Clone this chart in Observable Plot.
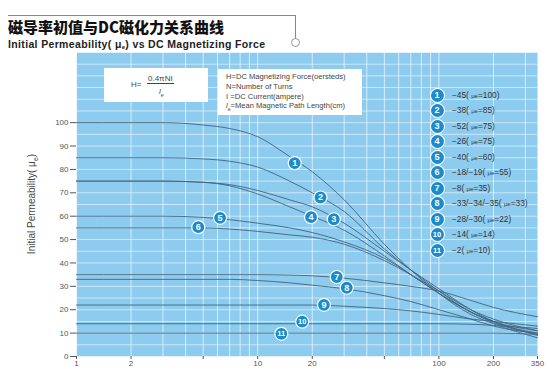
<!DOCTYPE html>
<html><head><meta charset="utf-8">
<script src="https://cdn.jsdelivr.net/npm/d3@7"></script>
<script src="https://cdn.jsdelivr.net/npm/@observablehq/plot@0.6"></script>
<style>
body{margin:0;background:#fff;}
#wrap{position:relative;width:554px;height:373px;overflow:hidden;font-family:"Liberation Sans",Arial,sans-serif;}
#chart{position:absolute;left:0;top:0;}
.abs{position:absolute;white-space:nowrap;}
#title{left:8px;top:19px;font-family:"Noto Sans CJK SC",sans-serif;font-weight:900;font-size:15px;line-height:15px;height:15px;color:#111;}
#subtitle{left:8px;top:39px;font-weight:bold;font-size:10.5px;letter-spacing:0.35px;line-height:10px;height:10px;color:#222;}
#frameLine{left:8px;top:15px;width:287px;height:24px;border-top:1px solid #888;border-right:1px solid #888;}
#ring{left:291px;top:38px;width:7px;height:7px;border:1.5px solid #999;border-radius:50%;background:#fff;}
#formula{left:104px;top:68px;width:104px;height:34px;background:#fff;font-size:8px;color:#444;}
#defs{left:218px;top:69px;width:144px;height:46px;background:#fff;font-size:7.6px;color:#444;line-height:9.8px;padding:3px 0 0 8px;box-sizing:border-box;}
#ylab{left:32px;top:204px;transform:translate(-50%,-50%) rotate(-90deg);font-size:10px;color:#444;}
.leg{font-size:8.3px;color:#333;}
.lc{position:absolute;width:13px;height:13px;border-radius:50%;background:#1a8ccc;color:#fff;font-size:9px;font-weight:bold;text-align:center;line-height:13px;box-shadow:0 0 0 1px #fff;}
</style></head>
<body>
<div id="wrap">
  <div id="chart"></div>
  <div class="abs" id="frameLine"></div>
  <div class="abs" id="ring"></div>
  <div class="abs" id="title">磁导率初值与DC磁化力关系曲线</div>
  <div class="abs" id="subtitle">Initial Permeability( μ<span style="font-size:6px;vertical-align:-1px">e</span>) vs DC Magnetizing Force</div>
  <div class="abs" id="formula">
    <span class="abs" style="left:27px;top:12px;">H=</span>
    <span class="abs" style="left:43px;top:6px;border-bottom:1px solid #444;padding:0 1px;">0.4πNI</span>
    <span class="abs" style="left:55px;top:19px;font-style:italic;">l<sub style="font-size:5px">e</sub></span>
  </div>
  <div class="abs" id="defs"></div>
  <div class="abs" id="ylab">Initial Permeability( μ<sub style="font-size:7px">e</sub>)</div>
  <div id="legend"></div>
</div>
<script>
// Magnetizing force H (oersteds) sample points
const H = [1, 2, 3, 5, 7, 10, 15, 20, 30, 50, 70, 100, 150, 200, 350];
// Initial permeability (% of initial) per material
const curve1  = [100, 100, 100, 99, 97.5, 94, 85.5, 79, 67, 48, 37, 27, 18, 14, 8];
const curve2  = [85, 85, 85, 84.5, 83.5, 81, 75, 70, 62, 46, 37, 28, 19, 15, 9];
const curve3  = [75, 75, 75, 74.5, 73.5, 71, 67, 64, 57, 45, 37, 29, 20, 15, 10];
const curve4  = [75, 75, 75, 74.5, 73, 69.5, 64, 60, 54, 43, 35, 27, 19, 14.5, 9.5];
const curve5  = [60, 60, 60, 59.5, 58.5, 57, 55, 53, 49, 42, 35, 27, 19, 15, 11];
const curve6  = [55, 55, 55, 55, 54.5, 53.5, 52, 51, 48, 41, 35, 28, 20, 16, 11];
const curve7  = [35, 35, 35, 35, 35, 35, 34.8, 34.5, 33.5, 31.5, 30, 28, 24, 21, 17];
const curve8  = [33, 33, 33, 33, 33, 32.5, 31.5, 30.5, 29, 26, 23.5, 20, 16, 13, 10];
const curve9  = [22, 22, 22, 22, 22, 22, 22, 22, 21.5, 20.5, 19.5, 18, 16, 15, 13];
const curve10 = [14, 14, 14, 14, 14, 14, 14, 14, 14, 14, 14, 14, 13.8, 13.3, 12];
const curve11 = [10, 10, 10, 10, 10, 10, 10, 10, 10, 10, 10, 10, 10, 10, 9.5];
const curves = [curve1, curve2, curve3, curve4, curve5, curve6, curve7, curve8, curve9, curve10, curve11];

// circled labels on curves (H, μ)
const labelIds = ["1","2","3","4","5","6","7","8","9","10","11"];
const labelH  = [16, 22.2, 26.3, 19.7, 6.2, 4.7, 27.3, 31, 23.2, 17.6, 13.5];
const labelMu = [82.7, 68, 58.7, 59.6, 59.3, 55.3, 34, 29.4, 22.1, 14.9, 9.7];

// legend texts
const legendCodes = ["-45","-38","-52","-26","-40","-18/-19","-8","-33/-34/-35","-28/-30","-14","-2"];
const legendMu = ["100","85","75","75","60","55","35","33","22","14","10"];

const defsLines = ["H=DC Magnetizing Force(oersteds)","N=Number of Turns","I  =DC Current(ampere)","=Mean Magnetic Path Length(cm)"];

const xTicks = [1, 2, 5, 10, 20, 50, 100, 200, 350];
const yTicks = [0, 10, 20, 30, 40, 50, 60, 70, 80, 90, 100];

const data = curves.flatMap((c, i) => H.map((h, j) => ({h, mu: c[j], id: i + 1})));
const labels = labelIds.map((t, i) => ({t, h: labelH[i], mu: labelMu[i]}));
const xGrid = [];
for (const d of [1, 10, 100]) for (let k = 1; k < 10; k++) if (d * k <= 350) xGrid.push(d * k);
const yGrid = d3.range(0, 131, 5);

const chart = Plot.plot({
  width: 554, height: 373,
  marginLeft: 76, marginRight: 17, marginTop: 52, marginBottom: 17,
  style: {background: "transparent", fontFamily: "Liberation Sans, Arial, sans-serif", fontSize: "8px", color: "#555"},
  x: {type: "log", domain: [1, 350], ticks: xTicks, tickFormat: d => String(d), label: null, tickSize: 3, tickPadding: 1},
  y: {domain: [0, 130], ticks: yTicks, label: null, tickSize: 6, tickPadding: 2},
  marks: [
    Plot.frame({fill: "#8dcbef", stroke: null}),
    Plot.ruleX(xGrid, {stroke: "#ffffff", strokeOpacity: 0.65, strokeWidth: 1}),
    Plot.ruleY(yGrid, {stroke: "#ffffff", strokeOpacity: 0.55, strokeWidth: 1}),
    Plot.line(data, {x: "h", y: "mu", z: "id", curve: "monotone-x", stroke: "#41647f", strokeWidth: 0.9}),
    Plot.dot(labels, {x: "h", y: "mu", r: 6.5, fill: "#1a8ccc", stroke: "#ffffff", strokeWidth: 1.2}),
    Plot.text(labels, {x: "h", y: "mu", text: "t", fill: "#ffffff", fontWeight: "bold", fontSize: d => d.t.length > 1 ? 7.5 : 9}),
    Plot.axisX({ticks: xTicks, tickFormat: d => String(d), tickSize: 3, tickPadding: 1}),
    Plot.axisY({ticks: yTicks, tickSize: 6, tickPadding: 2})
  ]
});
document.getElementById("chart").appendChild(chart);

// definitions box
const defs = document.getElementById("defs");
defsLines.forEach((s, i) => {
  const d = document.createElement("div");
  if (i === 3) d.innerHTML = '<i>l</i><sub style="font-size:5px">e</sub>' + s;
  else d.textContent = s;
  defs.appendChild(d);
});

// legend
const leg = document.getElementById("legend");
legendCodes.forEach((c, i) => {
  const y = 95 + i * 15.5;
  const circ = document.createElement("div");
  circ.className = "lc";
  circ.style.left = (437 - 6.5) + "px";
  circ.style.top = (y - 6.5) + "px";
  circ.style.fontSize = labelIds[i].length > 1 ? "7.5px" : "9px";
  circ.textContent = labelIds[i];
  leg.appendChild(circ);
  const t = document.createElement("div");
  t.className = "abs leg";
  t.style.left = "452px";
  t.style.top = (y - 5.5) + "px";
  t.innerHTML = c.replace(/-/g, "−") + '( <span style="font-size:6px">μe</span>=' + legendMu[i] + ')';
  leg.appendChild(t);
});
</script>
</body></html>
